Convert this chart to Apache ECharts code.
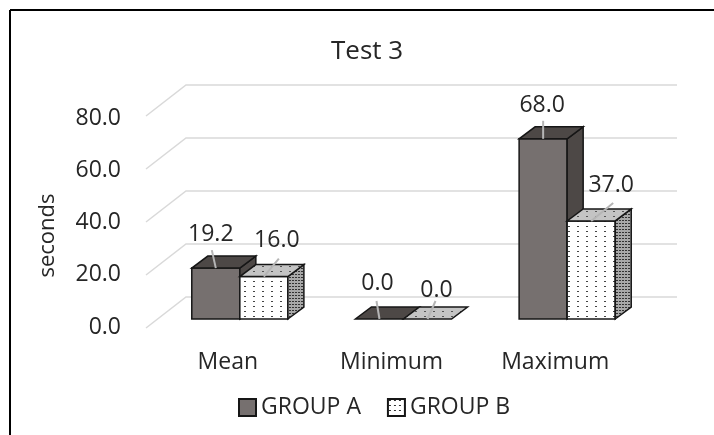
<!DOCTYPE html>
<html>
<head>
<meta charset="utf-8">
<style>
html,body{margin:0;padding:0;background:#fff}
#main{width:714px;height:435px}
</style>
<script src="https://cdn.jsdelivr.net/npm/echarts@6/dist/echarts.min.js"></script>
</head>
<body>
<div id="main"></div>
<script>
const categories = ['Mean', 'Minimum', 'Maximum']
const groupA = [19.2, 0, 68]
const groupB = [16, 0, 37]
const yTicks = [0, 20, 40, 60, 80]

const font = '"Open Sans"'
const textColor = '#262626'

// hand placed data labels and their leader lines, one entry per category
const layoutA = {labelDx: [-5, -2, -1], labelDy: [34, 36, 33], leaderDx: [-4, -3, 0]}
const layoutB = {labelDx: [13, 9, 20], labelDy: [36, 29, 35], leaderDx: [15, 8, 22]}

// dotted fill, bars in the original are pattern filled
const dots = (bg, dot, w, h) => {
  const c = document.createElement('canvas')
  c.width = w
  c.height = h
  const ctx = c.getContext('2d')
  ctx.fillStyle = bg
  ctx.fillRect(0, 0, w, h)
  ctx.fillStyle = dot
  ctx.fillRect(1, 1, 2, 1)
  return {image: c, repeat: 'repeat'}
}
const frontB = dots('#ffffff', '#444', 9, 5)
const topB = dots('#c4c4c4', '#555', 9, 5)
const sideB = dots('#a8a8a8', '#333', 3, 3)
const legendB = dots('#ffffff', '#222', 5, 5)

// depth of the 3d box, in pixels
const gapX = 12, gapY = 9
const depthX = 16, depthY = 12
const wallX = 40, wallY = 31

const poly = (points, fill) => ({
  type: 'polygon',
  shape: {points},
  style: {fill, stroke: '#161616', lineWidth: 1.5}
})

const makeBar = (index, colors, layout) => (params, api) => {
  const catIdx = api.value(0)
  const val = api.value(1)
  const bandW = api.size([1, 0])[0]
  const w = bandW * 0.2936
  const c = api.coord([catIdx, val])
  const b = api.coord([catIdx, 0])
  const x0 = b[0] + gapX - w + index * w
  const x1 = x0 + w
  const yb = b[1] - gapY
  const yt = c[1] - gapY
  const mid = (x0 + x1) / 2
  const children = []
  if (val > 0) {
    children.push(poly([[x0, yb], [x1, yb], [x1, yt], [x0, yt]], colors.front))
    children.push(poly([[x1, yb], [x1 + depthX, yb - depthY], [x1 + depthX, yt - depthY], [x1, yt]], colors.side))
  }
  children.push(poly([[x0, yt], [x1, yt], [x1 + depthX, yt - depthY], [x0 + depthX, yt - depthY]], colors.top))
  children.push({
    type: 'line',
    shape: {x1: mid, y1: yt, x2: mid + layout.leaderDx[catIdx], y2: yt - 18},
    style: {stroke: '#b5b5b5', lineWidth: 2}
  })
  children.push({
    type: 'text',
    style: {
      text: val.toFixed(1),
      x: mid + layout.labelDx[catIdx],
      y: yt - layout.labelDy[catIdx],
      align: 'center',
      verticalAlign: 'middle',
      font: '23px ' + font,
      fill: textColor
    }
  })
  return {type: 'group', children}
}

// back wall lines with the diagonal on the left side
const renderWall = (params, api) => {
  const rect = params.coordSys
  const y = api.coord([0, api.value(0)])[1]
  return {
    type: 'polyline',
    shape: {points: [
      [rect.x, y],
      [rect.x + wallX, y - wallY],
      [rect.x + rect.width + wallX, y - wallY]
    ]},
    style: {fill: 'none', stroke: '#d9d9d9', lineWidth: 1.5}
  }
}

const chart = echarts.init(document.getElementById('main'))
chart.setOption({
  animation: false,
  backgroundColor: '#fff',
  title: {
    text: 'Test 3',
    left: 326,
    top: 34,
    textStyle: {fontFamily: font, fontWeight: 'normal', fontSize: 26, color: textColor}
  },
  legend: {
    data: ['GROUP A', 'GROUP B'],
    left: 233,
    top: 391,
    itemWidth: 17,
    itemHeight: 17,
    itemGap: 26,
    icon: 'rect',
    textStyle: {fontFamily: font, fontSize: 23, color: textColor}
  },
  grid: [
    {left: 146, width: 491, top: 116, height: 212},
    // only carries the y labels, they sit a bit off the floor line
    {left: 146, width: 491, top: 118, height: 209}
  ],
  xAxis: [
    {
      type: 'category',
      data: categories,
      axisLine: {show: false},
      axisTick: {show: false},
      axisLabel: {margin: 23, fontFamily: font, fontSize: 23, color: textColor}
    },
    {type: 'category', gridIndex: 1, data: categories, show: false}
  ],
  yAxis: [
    {type: 'value', min: 0, max: 80, interval: 20, show: false},
    {
      type: 'value',
      gridIndex: 1,
      min: 0,
      max: 80,
      interval: 20,
      name: 'seconds',
      nameLocation: 'middle',
      nameGap: 87,
      nameTextStyle: {fontFamily: font, fontSize: 22, color: textColor, padding: [0, 26, 0, 0]},
      axisLine: {show: false},
      axisTick: {show: false},
      splitLine: {show: false},
      axisLabel: {
        margin: 25,
        fontFamily: font,
        fontSize: 23,
        color: textColor,
        formatter: v => v.toFixed(1)
      }
    }
  ],
  series: [
    {
      type: 'custom',
      name: 'wall',
      data: yTicks.map(v => [v]),
      encode: {y: 0},
      z: 1,
      silent: true,
      renderItem: renderWall
    },
    {
      type: 'custom',
      name: 'GROUP A',
      data: groupA.map((v, i) => [i, v]),
      encode: {x: 0, y: 1},
      z: 3,
      itemStyle: {color: '#76706f', borderColor: '#161616', borderWidth: 1.5},
      renderItem: makeBar(0, {front: '#76706f', side: '#4d4846', top: '#4d4846'}, layoutA)
    },
    {
      type: 'custom',
      name: 'GROUP B',
      data: groupB.map((v, i) => [i, v]),
      encode: {x: 0, y: 1},
      z: 4,
      itemStyle: {color: legendB, borderColor: '#161616', borderWidth: 1.5},
      renderItem: makeBar(1, {front: frontB, side: sideB, top: topB}, layoutB)
    }
  ],
  graphic: [
    {type: 'line', silent: true, shape: {x1: 10, y1: 10, x2: 714, y2: 10}, style: {stroke: '#000', lineWidth: 2}},
    {type: 'line', silent: true, shape: {x1: 10, y1: 10, x2: 10, y2: 435}, style: {stroke: '#000', lineWidth: 2}}
  ]
})
</script>
</body>
</html>
